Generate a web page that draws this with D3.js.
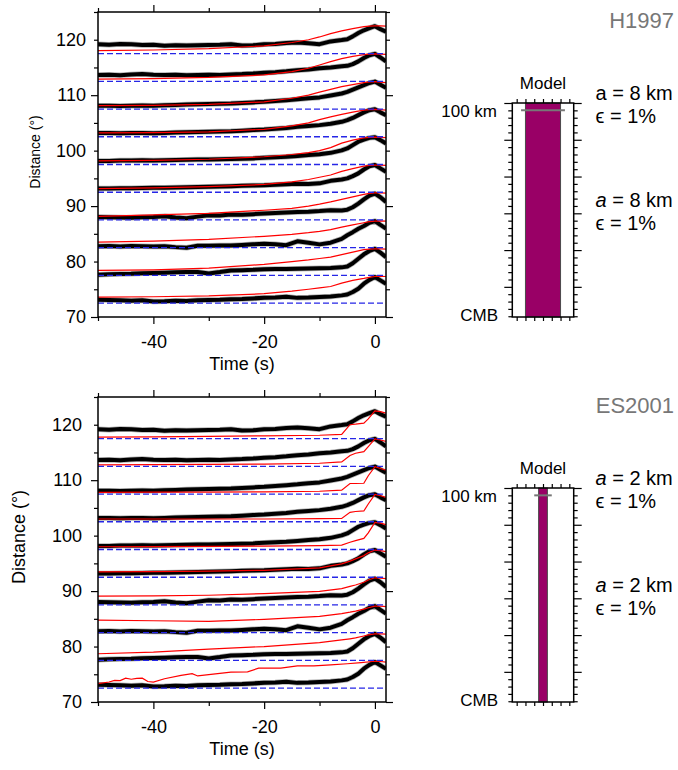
<!DOCTYPE html>
<html lang="en">
<head>
<meta charset="UTF-8">
<title>Waveform stacks</title>
<script src="https://d3js.org/d3.v7.min.js"></script>
<style>
  body { margin: 0; background: #fff; }
  svg text { font-family: "Liberation Sans", Arial, sans-serif; }
  .axis path { display: none; }
  .axis line { stroke: #000; stroke-width: 1.2; }
  .axis text { font-size: 18px; fill: #000; font-family: "Liberation Sans", Arial, sans-serif; }
</style>
</head>
<body>
<script>
// trace distances (deg); each trace sits on a baseline 2.5 deg below its distance
const distances = [75, 80, 85, 90, 95, 100, 105, 110, 115, 120];

// observed stacks (same data in both panels), offset above baseline
const obsTimes = [-50,-48,-46,-44,-42,-40,-38,-36,-34,-32,-30,-28,-26,-24,-22,-20,-18,-16,-14,-12,-10,-8,-6,-5,-4,-3,-2,-1,0,1,2];
const obs75  = [0.6,0.55,0.5,0.45,0.5,0.3,0.35,0.45,0.4,0.5,0.55,0.6,0.7,0.75,0.85,0.95,1.0,1.15,0.95,1.0,1.1,1.2,1.4,1.55,2.0,2.6,3.5,4.2,4.7,4.1,3.5];
const obs80  = [0.1,0.2,0.25,0.3,0.4,0.45,0.5,0.55,0.6,0.6,0.35,0.6,0.9,0.95,1.0,1.1,1.15,1.15,1.2,1.25,1.3,1.35,1.45,1.6,2.2,3.0,3.8,4.4,4.8,4.1,3.3];
const obs85  = [0.25,0.3,0.2,0.3,0.25,0.2,0.25,0.1,0.0,0.35,0.35,0.4,0.4,0.5,0.6,0.7,0.6,0.45,1.15,0.9,0.6,0.9,1.6,2.25,2.8,3.4,3.9,4.5,4.8,4.1,3.45];
const obs90  = [0.55,0.5,0.45,0.4,0.5,0.55,0.65,0.45,0.3,0.6,0.85,0.8,1.0,0.95,1.05,1.15,1.25,1.35,1.45,1.5,1.6,1.75,1.7,1.85,2.3,2.95,3.7,4.4,4.75,4.1,3.25];
const obs95  = [0.65,0.65,0.7,0.7,0.75,0.8,0.8,0.85,0.9,0.95,1.0,1.05,1.1,1.15,1.2,1.25,1.35,1.45,1.55,1.5,1.6,2.05,2.3,2.5,2.9,3.4,4.1,4.7,4.9,4.3,3.7];
const obs100 = [0.65,0.65,0.7,0.7,0.75,0.7,0.75,0.8,0.85,0.9,0.9,0.95,1.0,1.05,1.1,1.2,1.3,1.4,1.55,1.7,1.85,2.1,2.55,2.9,3.5,4.1,4.5,4.8,4.9,4.4,3.8];
const obs105 = [0.7,0.7,0.65,0.7,0.7,0.65,0.7,0.75,0.8,0.85,0.9,0.95,1.0,1.1,1.2,1.3,1.45,1.6,1.8,1.95,2.1,2.35,2.7,3.0,3.4,3.9,4.4,4.8,4.95,4.4,3.9];
const obs110 = [0.6,0.6,0.55,0.6,0.65,0.6,0.7,0.75,0.8,0.85,0.9,0.95,1.0,1.1,1.2,1.3,1.45,1.6,1.75,1.95,2.1,2.45,2.8,3.1,3.5,3.9,4.3,4.7,4.95,4.4,3.85];
const obs115 = [1.15,1.2,1.1,1.25,1.3,1.2,1.15,1.2,1.1,1.15,1.2,1.15,1.25,1.3,1.4,1.55,1.65,1.8,2.0,2.15,2.35,2.5,2.7,2.8,3.1,3.6,4.2,4.7,4.95,4.3,3.6];
const obs120 = [1.7,1.6,1.75,1.7,1.55,1.6,1.4,1.5,1.45,1.5,1.55,1.6,1.7,1.45,1.5,1.7,1.75,1.9,2.0,1.85,1.7,2.2,2.45,2.6,3.1,3.7,4.2,4.6,4.95,4.4,3.95];
const observed = [obs75, obs80, obs85, obs90, obs95, obs100, obs105, obs110, obs115, obs120];

// H1997 synthetics
const h1997Times = [-50,-40,-30,-20,-15,-12,-10,-8,-6,-4,-2,-1,0,1,2];
const h75  = [1.1,1.15,1.3,1.7,2.15,2.5,2.75,3.0,3.6,4.1,4.45,4.65,4.8,4.85,4.8];
const h80  = [0.9,1.0,1.3,2.0,2.5,2.8,3.05,3.3,3.75,4.2,4.65,4.75,4.8,4.8,4.75];
const h85  = [1.0,1.2,1.5,2.05,2.4,2.7,2.95,3.25,3.7,4.1,4.5,4.7,4.8,4.85,4.8];
const h90  = [0.65,0.9,1.2,1.75,2.1,2.5,2.85,3.25,3.7,4.15,4.6,4.8,4.9,4.9,4.85];
const h95  = [0.65,0.8,1.0,1.4,1.85,2.3,2.7,3.1,3.75,4.25,4.7,4.85,4.9,4.9,4.85];
const h100 = [0.65,0.75,0.95,1.4,1.8,2.15,2.5,3.05,3.85,4.4,4.8,4.9,4.95,4.9,4.85];
const h105 = [0.7,0.75,0.9,1.35,1.95,2.5,3.1,3.6,4.05,4.45,4.8,4.9,4.95,4.9,4.8];
const h110 = [0.6,0.65,0.85,1.3,1.95,2.5,3.05,3.55,4.05,4.4,4.75,4.9,4.95,4.85,4.75];
const h115 = [0.4,0.5,0.7,1.15,1.75,2.35,2.95,3.55,4.1,4.5,4.8,4.9,4.95,4.9,4.85];
const h120 = [0.55,0.65,0.9,1.4,2.0,2.5,3.0,3.6,4.1,4.5,4.85,4.95,5.0,5.0,4.95];
const h1997 = [h75, h80, h85, h90, h95, h100, h105, h110, h115, h120];

// ES2001 synthetics (75 deg trace sampled on its own times)
const es2001Times = [-50,-40,-30,-20,-10,-6,-4.5,-3.5,-2,-1.2,0,1,2];
const es75Times = [-50,-48,-47,-46,-45,-44,-43,-42,-41,-40,-38,-35,-33,-32,-26,-23,-21,-17,-14,-11,-8,-5,-2.5,0,1,2];
const es75  = [0.8,1.1,1.4,1.35,1.8,1.6,1.75,1.8,1.2,1.1,1.7,2.3,2.6,2.2,2.9,2.95,3.6,3.6,4.0,4.0,4.2,4.4,4.6,4.85,4.8,4.7];
const es80  = [1.2,1.5,2.05,2.5,3.2,3.7,3.9,4.05,4.4,4.6,4.8,4.8,4.75];
const es85  = [2.25,2.15,2.05,2.4,2.95,3.45,3.7,3.9,4.25,4.5,4.8,4.8,4.7];
const es90  = [1.6,1.65,1.75,2.05,2.45,2.95,3.35,3.6,4.1,4.5,4.9,4.85,4.75];
const es95  = [0.95,1.0,1.1,1.25,1.7,2.4,2.9,3.3,3.9,4.4,4.9,4.8,4.6];
const es100 = [0.5,0.52,0.55,0.6,0.7,0.8,1.3,1.6,2.0,3.0,4.9,4.75,4.5];
const es105 = [0.5,0.5,0.5,0.5,0.55,0.6,1.7,1.85,1.95,3.2,4.95,4.7,4.4];
const es110 = [0.3,0.33,0.36,0.4,0.5,0.7,1.9,1.9,1.95,3.3,4.95,4.6,4.3];
const es115 = [0.25,0.3,0.35,0.4,0.55,0.8,1.95,2.35,2.65,3.55,4.95,4.75,4.5];
const es120 = [0.25,0.3,0.4,0.5,0.6,0.75,2.5,2.6,2.8,3.55,5.0,4.85,4.6];
const es2001 = [es75, es80, es85, es90, es95, es100, es105, es110, es115, es120];

// model panels
const modelNames = ["H1997", "ES2001"];
const modelScale = ["8", "2"];      // a (km)
const modelEps = ["1", "1"];        // epsilon (%)
const modelHalfWidth = [2, 0.5];    // purple column half width
const modelTop = 2600, modelCmb = 2891, modelMarker = 2610;

const xTicksMajor = [-40, -20, 0];
const xTicksMinor = [-50, -30, -10];
const yTickLabels = [70, 80, 90, 100, 110, 120];
const yTicksMajor = [70, 90, 110];

const width = 678, height = 770;
const svg = d3.select("body").append("svg")
  .attr("width", width)
  .attr("height", height);

const x = d3.scaleLinear().domain([-50, 2]).range([98, 386]);

function tickAxis(gen, vals, size, fmt) {
  return gen.tickValues(vals).tickSize(size).tickFormat(fmt || "");
}

function drawPanel(top, idx, synth, labelSize, labelX, labelPad) {
  const y = d3.scaleLinear().domain([70, 125]).range([top + 305, top]);
  const g = svg.append("g");
  const clipId = "clip" + idx;
  svg.append("clipPath").attr("id", clipId)
    .append("rect")
    .attr("x", x(-50)).attr("y", top)
    .attr("width", x(2) - x(-50)).attr("height", 305);

  const data = g.append("g").attr("clip-path", `url(#${clipId})`);
  const trace = (times, vals, base) =>
    d3.line().x((d, i) => x(times[i])).y(d => y(base + d))(vals);

  // observed (grey halo under a thick black line)
  distances.forEach((dist, i) => {
    const d = trace(obsTimes, observed[i], dist - 2.5);
    data.append("path")
      .attr("d", d)
      .attr("fill", "none")
      .attr("stroke", "#555")
      .attr("stroke-opacity", 0.45)
      .attr("stroke-width", 5.5)
      .attr("stroke-linejoin", "round");
    data.append("path")
      .attr("d", d)
      .attr("fill", "none")
      .attr("stroke", "#000")
      .attr("stroke-width", 4)
      .attr("stroke-linejoin", "round");
  });

  // synthetics
  synth.forEach((s, i) => {
    data.append("path")
      .attr("d", trace(s.t, s.v, distances[i] - 2.5))
      .attr("fill", "none")
      .attr("stroke", "#ff0000")
      .attr("stroke-width", 1.2);
  });

  // baselines
  distances.forEach(dist => {
    data.append("line")
      .attr("x1", x(-50)).attr("x2", x(2))
      .attr("y1", y(dist - 2.5)).attr("y2", y(dist - 2.5))
      .attr("stroke", "#2626e6")
      .attr("stroke-width", 1.3)
      .attr("stroke-dasharray", "6,3");
  });

  // frame
  g.append("rect")
    .attr("x", x(-50)).attr("y", top)
    .attr("width", x(2) - x(-50)).attr("height", 305)
    .attr("fill", "none").attr("stroke", "#000").attr("stroke-width", 1.5);

  const bottom = top + 305;
  const addAxis = (gen, tx, ty) =>
    g.append("g").attr("class", "axis").attr("transform", `translate(${tx},${ty})`).call(gen);

  // x axes
  addAxis(tickAxis(d3.axisBottom(x), xTicksMajor, 7), 0, bottom);
  addAxis(tickAxis(d3.axisBottom(x), xTicksMinor, 4), 0, bottom);
  addAxis(tickAxis(d3.axisBottom(x), xTicksMajor, 0, d => String(d)).tickPadding(18), 0, bottom);
  addAxis(tickAxis(d3.axisTop(x), xTicksMajor, 7), 0, top);
  addAxis(tickAxis(d3.axisTop(x), xTicksMinor, 4), 0, top);

  // y axes
  const yMinor = d3.range(75, 126, 5).filter(v => !yTicksMajor.includes(v));
  addAxis(tickAxis(d3.axisLeft(y), yTicksMajor, 7), x(-50), 0);
  addAxis(tickAxis(d3.axisLeft(y), yMinor, 4), x(-50), 0);
  addAxis(tickAxis(d3.axisLeft(y), yTickLabels, 0, d => String(d)).tickPadding(labelPad), x(-50), 0);
  addAxis(tickAxis(d3.axisRight(y), yTicksMajor, 7), x(2), 0);
  addAxis(tickAxis(d3.axisRight(y), yMinor, 4), x(2), 0);

  g.append("text")
    .attr("x", (x(-50) + x(2)) / 2)
    .attr("y", top + 358)
    .attr("text-anchor", "middle")
    .attr("font-size", 18)
    .text("Time (s)");

  g.append("text")
    .attr("transform", `translate(${labelX},${top + 140}) rotate(-90)`)
    .attr("text-anchor", "middle")
    .attr("font-size", labelSize)
    .text("Distance (°)");
}

function drawModel(top, m, uprightFirst) {
  const mx = d3.scaleLinear().domain([-3.5, 3.5]).range([512.3, 573.7]);
  const my = d3.scaleLinear().domain([modelTop, modelCmb]).range([top + 91, top + 305]);
  const g = svg.append("g");
  const hw = modelHalfWidth[m];

  g.append("rect")
    .attr("x", mx(-hw)).attr("y", my(modelTop))
    .attr("width", mx(hw) - mx(-hw)).attr("height", my(modelCmb) - my(modelTop))
    .attr("fill", "#990066").attr("stroke", "#4a4a4a").attr("stroke-width", 1);

  g.append("line")
    .attr("x1", mx(-hw - 0.5)).attr("x2", mx(hw + 0.5))
    .attr("y1", my(modelMarker)).attr("y2", my(modelMarker))
    .attr("stroke", "#777").attr("stroke-width", 2);

  g.append("rect")
    .attr("x", mx(-3.5)).attr("y", my(modelTop))
    .attr("width", mx(3.5) - mx(-3.5)).attr("height", my(modelCmb) - my(modelTop))
    .attr("fill", "none").attr("stroke", "#000").attr("stroke-width", 1.5);

  const addAxis = (gen, tx, ty) =>
    g.append("g").attr("class", "axis").attr("transform", `translate(${tx},${ty})`).call(gen);
  const major = d3.range(modelTop, modelCmb, 50);
  const minor = d3.range(modelTop, modelCmb, 10).filter(v => !major.includes(v));
  const hx = d3.range(-3, 4, 1);
  addAxis(tickAxis(d3.axisLeft(my), major, 8), mx(-3.5), 0);
  addAxis(tickAxis(d3.axisLeft(my), minor, 4), mx(-3.5), 0);
  addAxis(tickAxis(d3.axisRight(my), major, 8), mx(3.5), 0);
  addAxis(tickAxis(d3.axisRight(my), minor, 4), mx(3.5), 0);
  addAxis(tickAxis(d3.axisTop(mx), hx, 4), 0, my(modelTop));
  addAxis(tickAxis(d3.axisBottom(mx), hx, 4), 0, my(modelCmb));

  g.append("text").attr("x", 543).attr("y", top + 77)
    .attr("text-anchor", "middle").attr("font-size", 17).text("Model");
  g.append("text").attr("x", 497).attr("y", my(modelMarker) + 6.5)
    .attr("text-anchor", "end").attr("font-size", 17).text("100 km");
  g.append("text").attr("x", 498).attr("y", my(modelCmb) + 4)
    .attr("text-anchor", "end").attr("font-size", 17).text("CMB");

  g.append("text").attr("x", 674).attr("y", top + 16)
    .attr("text-anchor", "end").attr("font-size", 22).attr("fill", "#777")
    .text(modelNames[m]);

  [top + 88, top + 195].forEach((yy, j) => {
    const t = g.append("text").attr("x", 595.5).attr("y", yy).attr("font-size", 20);
    t.append("tspan").attr("font-style", (uprightFirst && j === 0) ? "normal" : "italic").text("a");
    t.append("tspan").text(` = ${modelScale[m]} km`);
    g.append("text").attr("x", 595.5).attr("y", yy + 23).attr("font-size", 20)
      .text(`ϵ = ${modelEps[m]}%`);
  });
}

const h1997Synth = h1997.map(v => ({ t: h1997Times, v }));
const es2001Synth = es2001.map((v, i) => ({ t: i === 0 ? es75Times : es2001Times, v }));

drawPanel(12, 0, h1997Synth, 14, 40, 12);
drawPanel(397, 1, es2001Synth, 18, 25, 16);
drawModel(12, 0, true);
drawModel(397, 1, false);
</script>
</body>
</html>
